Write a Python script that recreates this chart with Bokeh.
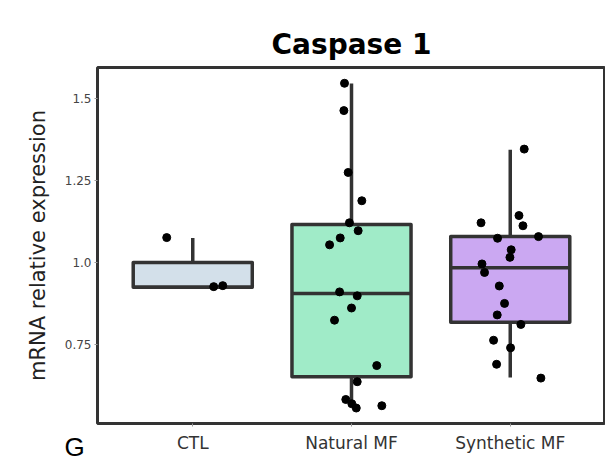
from bokeh.plotting import figure
from bokeh.models import Range1d, FixedTicker, Title, ColumnDataSource, LinearAxis
from bokeh.embed import file_html
from bokeh.resources import INLINE

# ---- data ----
categories = ["CTL", "Natural MF", "Synthetic MF"]
box_colors = ["#d3e0ea", "#a0ebc8", "#cba8f2"]

# box statistics
whisker_low = [0.925, 0.572, 0.651]
q1 = [0.925, 0.653, 0.819]
median = [0.925, 0.906, 0.984]
q3 = [1.000, 1.116, 1.079]
whisker_high = [1.075, 1.544, 1.343]

# individual points (value, horizontal jitter in category units)
ctl_values = [1.076, 0.927, 0.930]
ctl_jitter = [-0.164, 0.132, 0.189]

natural_values = [1.545, 1.462, 1.274, 1.188, 1.121, 1.097, 1.075, 1.054, 0.911,
                  0.899, 0.862, 0.825, 0.687, 0.638, 0.584, 0.571, 0.558, 0.565]
natural_jitter = [-0.044, -0.048, -0.021, 0.065, -0.013, 0.042, -0.071, -0.138, -0.075,
                  0.036, 0.000, -0.107, 0.159, 0.036, -0.036, 0.002, 0.030, 0.191]

synthetic_values = [1.345, 1.143, 1.112, 1.121, 1.074, 1.079, 1.039, 1.016, 0.996,
                    0.970, 0.929, 0.876, 0.841, 0.812, 0.764, 0.741, 0.691, 0.649]
synthetic_jitter = [0.088, 0.055, 0.080, -0.184, -0.080, 0.178, 0.006, -0.002, -0.178,
                    -0.162, -0.069, -0.036, -0.082, 0.067, -0.105, 0.002, -0.086, 0.193]

y_ticks = [0.75, 1.0, 1.25, 1.5]
y_tick_labels = ["0.75", "1.0", "1.25", "1.5"]

title_text = "Caspase 1"
y_label = "mRNA relative expression"
panel_tag = "G"

# ---- figure ----
centers = [i + 0.5 for i in range(len(categories))]
box_width = 0.75
dark = "#333333"

p = figure(width=605, height=461, output_backend="svg", toolbar_location=None, title=None,
           x_range=Range1d(-0.1, 3.1), y_range=Range1d(0.511, 1.593),
           min_border_left=97, min_border_right=0, min_border_top=67, min_border_bottom=38)

p.background_fill_color = "white"
p.border_fill_color = "white"
p.outline_line_color = dark
p.outline_line_width = 3
p.xgrid.visible = False
p.ygrid.visible = False

# invisible spacer between frame and title (no ticks, no labels)
spacer = LinearAxis(ticker=FixedTicker(ticks=[]), axis_line_color=None,
                    major_tick_line_color=None, minor_tick_line_color=None,
                    major_tick_out=17, major_tick_in=0, minor_tick_out=0,
                    major_label_standoff=0)
p.add_layout(spacer, "above")

main_title = Title(text=title_text, align="center", standoff=14,
                   text_font="DejaVu Sans", text_font_style="bold",
                   text_font_size="28px", text_color="black")
p.add_layout(main_title, "above")

# whiskers
p.segment(x0=centers, x1=centers, y0=q3, y1=whisker_high, line_color=dark, line_width=3.5)
p.segment(x0=centers, x1=centers, y0=whisker_low, y1=q1, line_color=dark, line_width=3.5)

# boxes
p.vbar(x=centers, width=box_width, bottom=q1, top=q3, fill_color=box_colors,
       line_color=dark, line_width=3.5, line_join="round")

# medians
p.segment(x0=[c - box_width / 2 for c in centers], x1=[c + box_width / 2 for c in centers],
          y0=median, y1=median, line_color=dark, line_width=3.5)

# points
groups = [(ctl_values, ctl_jitter), (natural_values, natural_jitter),
          (synthetic_values, synthetic_jitter)]
for c, (vals, jit) in zip(centers, groups):
    src = ColumnDataSource(dict(x=[c + j for j in jit], y=vals))
    p.scatter("x", "y", source=src, size=8, fill_color="black", line_color="black")

# axes
xax = p.below[0]
xax.ticker = FixedTicker(ticks=centers)
xax.major_label_overrides = {c: cat for c, cat in zip(centers, categories)}
xax.axis_line_color = None
xax.major_tick_line_color = "#999999"
xax.major_tick_out = 3
xax.major_tick_in = 0
xax.minor_tick_line_color = None
xax.major_label_text_font = "DejaVu Sans"
xax.major_label_text_font_size = "17px"
xax.major_label_text_color = "#333333"
xax.major_label_standoff = 6

p.yaxis.ticker = FixedTicker(ticks=y_ticks)
p.yaxis.major_label_overrides = {t: l for t, l in zip(y_ticks, y_tick_labels)}
p.yaxis.axis_line_color = None
p.yaxis.major_tick_line_color = "#999999"
p.yaxis.major_tick_out = 3
p.yaxis.major_tick_in = 0
p.yaxis.minor_tick_line_color = None
p.yaxis.major_label_text_font = "DejaVu Sans"
p.yaxis.major_label_text_font_size = "12px"
p.yaxis.major_label_text_color = "#444444"
p.yaxis.major_label_standoff = 3
p.yaxis.axis_label = y_label
p.yaxis.axis_label_text_font = "DejaVu Sans"
p.yaxis.axis_label_text_font_style = "normal"
p.yaxis.axis_label_text_font_size = "21px"
p.yaxis.axis_label_text_color = "#222222"
p.yaxis.axis_label_standoff = 12

tag = Title(text=panel_tag, align="left", vertical_align="top", offset=-33, standoff=-48,
            text_font="Liberation Sans", text_font_size="26px", text_font_style="normal",
            text_color="black")
p.add_layout(tag, "below")

open("out.html", "w").write(file_html(p, INLINE))
